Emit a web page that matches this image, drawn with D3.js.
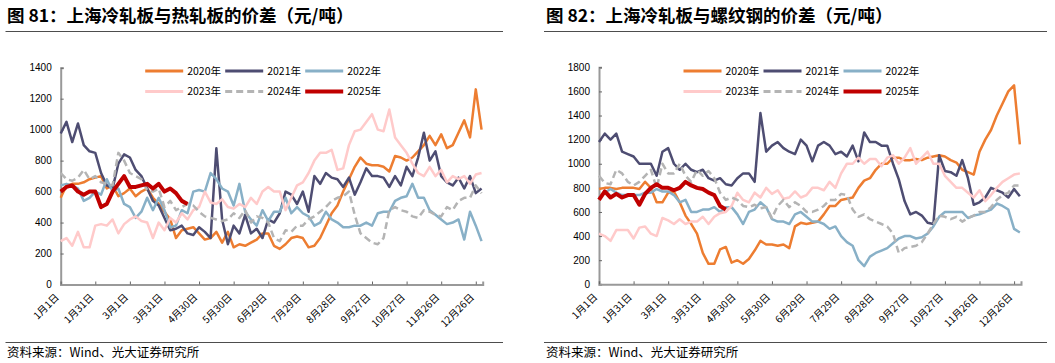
<!DOCTYPE html>
<html>
<head>
<meta charset="utf-8">
<script src="https://cdn.jsdelivr.net/npm/d3@7"></script>
<style>
body { margin: 0; background: #fff; }
svg text { font-family: "Liberation Sans", Arial, sans-serif; fill: #000; }
svg .cjk { font-family: "Noto Sans CJK SC", sans-serif; }
</style>
</head>
<body>
<svg id="chart" width="1055" height="363"></svg>
<script>
// every series is sampled every 5 days from 1月1日, on a 2020 (leap) calendar
var days = d3.range(0, 366, 5);
var tickDays = d3.range(0, 361, 30);
var years = ["2020年", "2021年", "2022年", "2023年", "2024年", "2025年"];

// 图81 冷轧板 - 热轧板
var crHr2020 = [560,640,650,650,660,680,690,700,620,640, 570,590,620,570,600,620,560,520,470,420,
    300,350,360,370,330,290,300,340,270,340, 240,260,250,270,290,330,330,250,230,260,
    300,310,300,240,250,300,380,460,510,600, 680,760,820,780,770,770,760,730,830,820,
    800,820,860,900,960,900,970,880,900,980, 1060,950,1260,1000];
var crHr2021 = [975,1050,920,1040,900,860,850,720,640,620, 780,840,820,740,700,620,540,510,430,350,
    360,380,330,320,370,340,300,880,420,260, 380,330,450,330,360,300,420,400,460,600,
    580,520,600,470,700,650,720,690,680,630, 690,580,660,750,700,700,690,630,700,640,
    760,700,820,980,800,860,700,660,640,690, 620,700,590,620];
var crHr2022 = [640,650,640,620,540,560,600,580,680,600, 620,520,500,430,470,560,480,560,480,370,
    380,480,460,600,610,600,720,680,620,600, 510,650,470,420,380,480,410,470,470,560,
    460,500,460,440,380,400,470,420,400,370, 370,380,380,400,380,460,470,470,540,560,
    570,650,560,560,480,450,420,390,400,420, 290,470,380,280];
var crHr2023 = [280,300,250,340,240,240,380,390,380,420, 330,390,420,440,410,400,300,400,350,430,
    400,460,420,480,500,600,530,520,550,500, 490,520,500,560,520,600,630,600,600,480,
    560,640,660,720,800,850,850,870,740,750, 900,990,1000,1050,1100,1000,990,1130,950,900,
    850,780,720,700,760,700,740,660,700,680, 700,650,710,720];
var crHr2024 = [720,680,670,690,740,680,700,660,650,640, 850,800,720,700,680,610,600,620,500,540,
    480,500,520,510,470,440,430,420,410,420, 460,430,480,400,440,430,400,300,280,350,
    340,380,380,420,440,470,500,540,560,570, 600,450,330,300,270,260,300,480,500,480,
    470,440,430,480,470,450,440,500,480,540, 560,560,640,590];
var crHr2025 = [600,630,640,600,580,600,600,500,520,600, 650,700,630,630,640,650,620,650,600,620,
    590,540,520];

// 图82 冷轧板 - 螺纹钢
var crRb2020 = [790,800,800,790,800,800,800,790,850,800, 680,680,760,770,680,570,500,420,260,170,
    170,290,310,180,200,170,210,280,360,330, 330,320,330,300,480,510,500,510,520,580,
    650,650,700,710,720,800,860,880,950,1000, 1000,1050,1050,1030,1030,1040,1030,1050,1060,1070,
    1060,1030,1010,950,930,910,1100,1200,1280,1400, 1500,1600,1650,1160];
var crRb2021 = [1180,1250,1200,1250,1100,1080,1060,1000,1000,1000, 900,1100,1130,1000,950,1000,950,930,950,880,
    860,880,830,820,880,920,920,850,1420,1100, 1150,1180,1130,1100,1080,1200,1150,1020,1150,1180,
    1150,1080,1100,1060,1150,1020,1260,1180,1180,1150, 1150,1000,870,690,580,600,570,510,500,1070,
    940,930,900,1030,880,660,680,720,800,780, 760,720,790,730];
var crRb2022 = [720,760,790,760,740,740,740,740,760,760, 790,770,770,740,680,700,600,600,620,620,
    640,600,640,640,580,500,600,620,680,640, 540,520,520,500,580,600,560,520,520,500,
    460,480,400,350,320,200,150,230,260,280, 300,340,380,400,400,380,390,420,480,560,
    600,600,600,600,550,570,580,600,620,670, 650,620,460,430];
var crRb2023 = [420,400,360,450,450,450,380,470,480,420, 400,550,530,500,540,500,520,520,560,500,
    560,590,600,650,760,700,680,760,720,800, 750,780,710,720,770,720,740,800,800,780,
    850,800,920,1000,1000,1050,1000,1040,1040,980, 1050,1070,1000,1050,1130,1000,1050,1100,1000,1000,
    900,850,800,800,760,720,780,690,740,800, 850,880,910,920];
var crRb2024 = [900,840,830,950,920,850,820,850,900,950, 800,1000,920,920,1000,900,850,950,900,940,
    880,760,700,720,700,650,640,660,630,640, 550,650,700,640,680,650,600,600,620,650,
    700,700,750,740,620,560,580,540,520,500, 480,420,260,300,310,320,350,420,500,570,
    560,540,560,520,550,570,600,600,640,700, 740,760,820,820];
var crRb2025 = [700,770,720,750,720,740,740,660,750,800, 830,800,800,780,800,850,820,800,790,760,
    740,650,620];

var hrTicks = d3.range(0, 1401, 200);
var rbTicks = d3.range(0, 1801, 200);

var colors = ["#ED7D31", "#4E4D72", "#88B0C7", "#FFCACA", "#B4B4B4", "#C00000"];

var svg = d3.select("#chart");
var base = new Date(2020, 0, 1);
var dayFmt = d3.timeFormat("%-m月%-d日");

function toDate(d) {
    return d3.timeDay.offset(base, d);
}

function drawPanel(p) {
    var g = svg.append("g");

    g.append("text").attr("class", "cjk")
        .attr("x", p.textX).attr("y", 22)
        .style("font-size", "17.5px").style("font-weight", "bold")
        .text(p.title);
    g.append("line")
        .attr("x1", p.ruleX1).attr("x2", p.ruleX2).attr("y1", 31.5).attr("y2", 31.5)
        .attr("stroke", "#4d4d4d").attr("stroke-width", 1);
    g.append("line")
        .attr("x1", p.ruleX1).attr("x2", p.ruleX2).attr("y1", 342.5).attr("y2", 342.5)
        .attr("stroke", "#4d4d4d").attr("stroke-width", 1);
    g.append("text").attr("class", "cjk")
        .attr("x", p.textX).attr("y", 357)
        .style("font-size", "12.5px")
        .text("资料来源：Wind、光大证券研究所");

    var x = d3.scaleTime()
        .domain([base, new Date(2021, 0, 1)])
        .range([p.x0, p.x1]);
    var y = d3.scaleLinear()
        .domain([0, p.yMax])
        .range([p.yBottom, p.yTop]);

    // y axis
    var ya = g.append("g")
        .attr("transform", "translate(" + p.x0 + ",0)")
        .call(d3.axisLeft(y).tickValues(p.yTicks).tickSize(-3).tickPadding(9).tickFormat(d3.format("d")));
    ya.selectAll("text").style("font-size", "10px").style("font-family", "Liberation Sans, Arial, sans-serif");

    // x axis
    var xa = g.append("g")
        .attr("transform", "translate(0," + p.yBottom + ")")
        .call(d3.axisBottom(x).tickValues(tickDays.map(toDate)).tickSize(-3).tickFormat(dayFmt));
    xa.selectAll("text")
        .attr("class", "cjk")
        .style("font-size", "10px")
        .style("text-anchor", "end")
        .attr("y", 0).attr("dy", "0.35em")
        .attr("transform", "translate(-4,11) rotate(-45)");

    [ya, xa].forEach(function(a) {
        a.select(".domain").attr("stroke", "#999").attr("stroke-width", 2);
        a.selectAll(".tick line").attr("stroke", "#666").attr("stroke-width", 1);
    });

    var line = d3.line()
        .x(function(d, i) { return x(toDate(days[i])); })
        .y(function(d) { return y(d); });

    p.series.forEach(function(vals, k) {
        g.append("path")
            .datum(vals)
            .attr("fill", "none")
            .attr("stroke", colors[k])
            .attr("stroke-width", k === 5 ? 4 : 2.5)
            .attr("stroke-linejoin", "round")
            .attr("stroke-dasharray", k === 4 ? "7,4" : null)
            .attr("d", line);
    });

    // legend, 3 per row
    var lg = g.append("g");
    years.forEach(function(name, k) {
        var lx = p.x0 + 84.5 + (k % 3) * 80;
        var ly = k < 3 ? 71 : 91.5;
        lg.append("line")
            .attr("x1", lx).attr("x2", lx + 38).attr("y1", ly).attr("y2", ly)
            .attr("stroke", colors[k])
            .attr("stroke-width", k === 5 ? 4 : 3)
            .attr("stroke-dasharray", k === 4 ? "7,4" : null);
        lg.append("text").attr("class", "cjk")
            .attr("x", lx + 42).attr("y", ly).attr("dy", "0.35em")
            .style("font-size", "10.5px")
            .text(name);
    });
}

drawPanel({
    title: "图 81：上海冷轧板与热轧板的价差（元/吨）",
    textX: 7, ruleX1: 5.5, ruleX2: 503,
    x0: 60.7, x1: 482.7, yTop: 67.7, yBottom: 284.5,
    yMax: 1400, yTicks: hrTicks,
    series: [crHr2020, crHr2021, crHr2022, crHr2023, crHr2024, crHr2025]
});

drawPanel({
    title: "图 82：上海冷轧板与螺纹钢的价差（元/吨）",
    textX: 546, ruleX1: 544, ruleX2: 1047,
    x0: 599, x1: 1021, yTop: 67.3, yBottom: 284.3,
    yMax: 1800, yTicks: rbTicks,
    series: [crRb2020, crRb2021, crRb2022, crRb2023, crRb2024, crRb2025]
});
</script>
</body>
</html>
